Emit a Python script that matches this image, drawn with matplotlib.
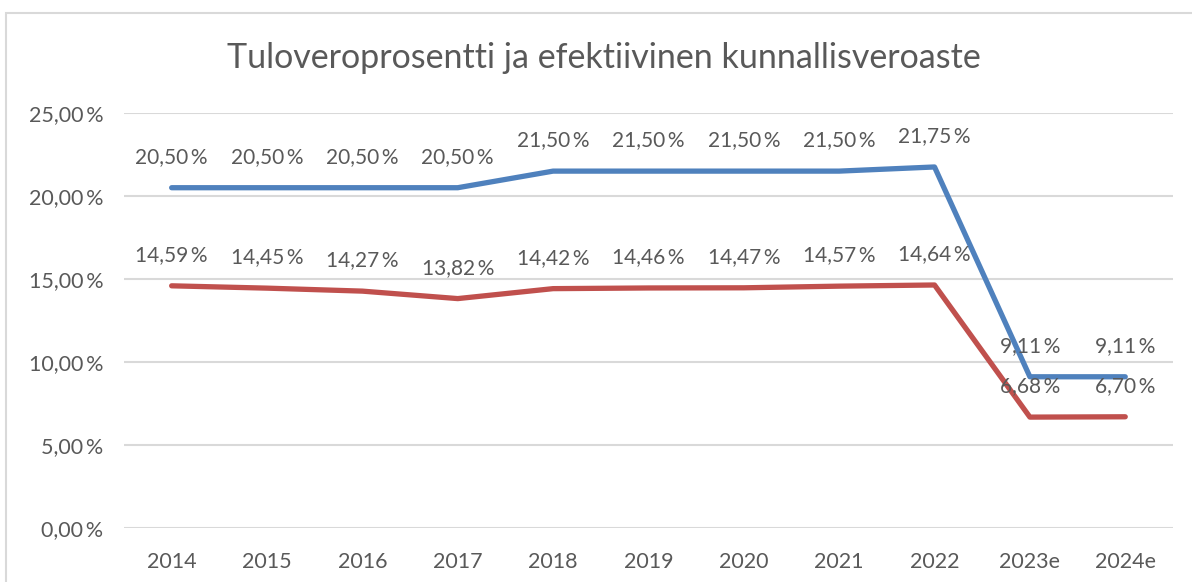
import matplotlib
matplotlib.use('Agg')
import matplotlib.pyplot as plt
from matplotlib.patches import Rectangle
from matplotlib.ticker import FuncFormatter

years = ['2014', '2015', '2016', '2017', '2018', '2019', '2020', '2021', '2022', '2023e', '2024e']
tulovero = [20.50, 20.50, 20.50, 20.50, 21.50, 21.50, 21.50, 21.50, 21.75, 9.11, 9.11]
efektiivinen = [14.59, 14.45, 14.27, 13.82, 14.42, 14.46, 14.47, 14.57, 14.64, 6.68, 6.70]

text_col = '#595959'
plt.rcParams['font.family'] = ['Lato', 'DejaVu Sans']

fig = plt.figure(figsize=(11.92, 5.82), dpi=100)
ax = fig.add_axes([0.104, 0.0928, 0.880, 0.713])

# Outer chart border
fig.patches.append(Rectangle((6 / 1192, -0.05), 1.1, 1 - 13 / 582 + 0.05,
                             transform=fig.transFigure, fill=False,
                             edgecolor='#D9D9D9', lw=1.5))

x = list(range(len(years)))
ax.plot(x, tulovero, color='#4F81BD', lw=3.8, solid_capstyle='round', solid_joinstyle='round', zorder=3)
ax.plot(x, efektiivinen, color='#C0504D', lw=3.8, solid_capstyle='round', solid_joinstyle='round', zorder=3)

def fmt(v):
    return f"{v:.2f}".replace('.', ',') + '\u2009%'

for series in (tulovero, efektiivinen):
    for xi, v in zip(x, series):
        ax.annotate(fmt(v), (xi, v), xytext=(0, 22), textcoords='offset points',
                    ha='center', va='center', fontsize=15, color=text_col, zorder=4)

ax.set_xlim(-0.5, 10.5)
ax.set_ylim(0, 25)
ax.set_yticks([0, 5, 10, 15, 20, 25])
ax.yaxis.set_major_formatter(FuncFormatter(lambda v, p: fmt(v)))
ax.set_xticks(x)
ax.set_xticklabels(years)
ax.tick_params(axis='both', length=0, labelsize=15.5, labelcolor=text_col)
ax.tick_params(axis='y', pad=15)
ax.tick_params(axis='x', pad=17)
ax.grid(axis='y', color='#D9D9D9', lw=1.5)
ax.set_axisbelow(True)
for s in ax.spines.values():
    s.set_visible(False)

fig.text(0.507, 1 - 58 / 582, 'Tuloveroprosentti ja efektiivinen kunnallisveroaste',
         ha='center', va='center', fontsize=24.5, color=text_col)

fig.savefig('out.png', dpi=100)
